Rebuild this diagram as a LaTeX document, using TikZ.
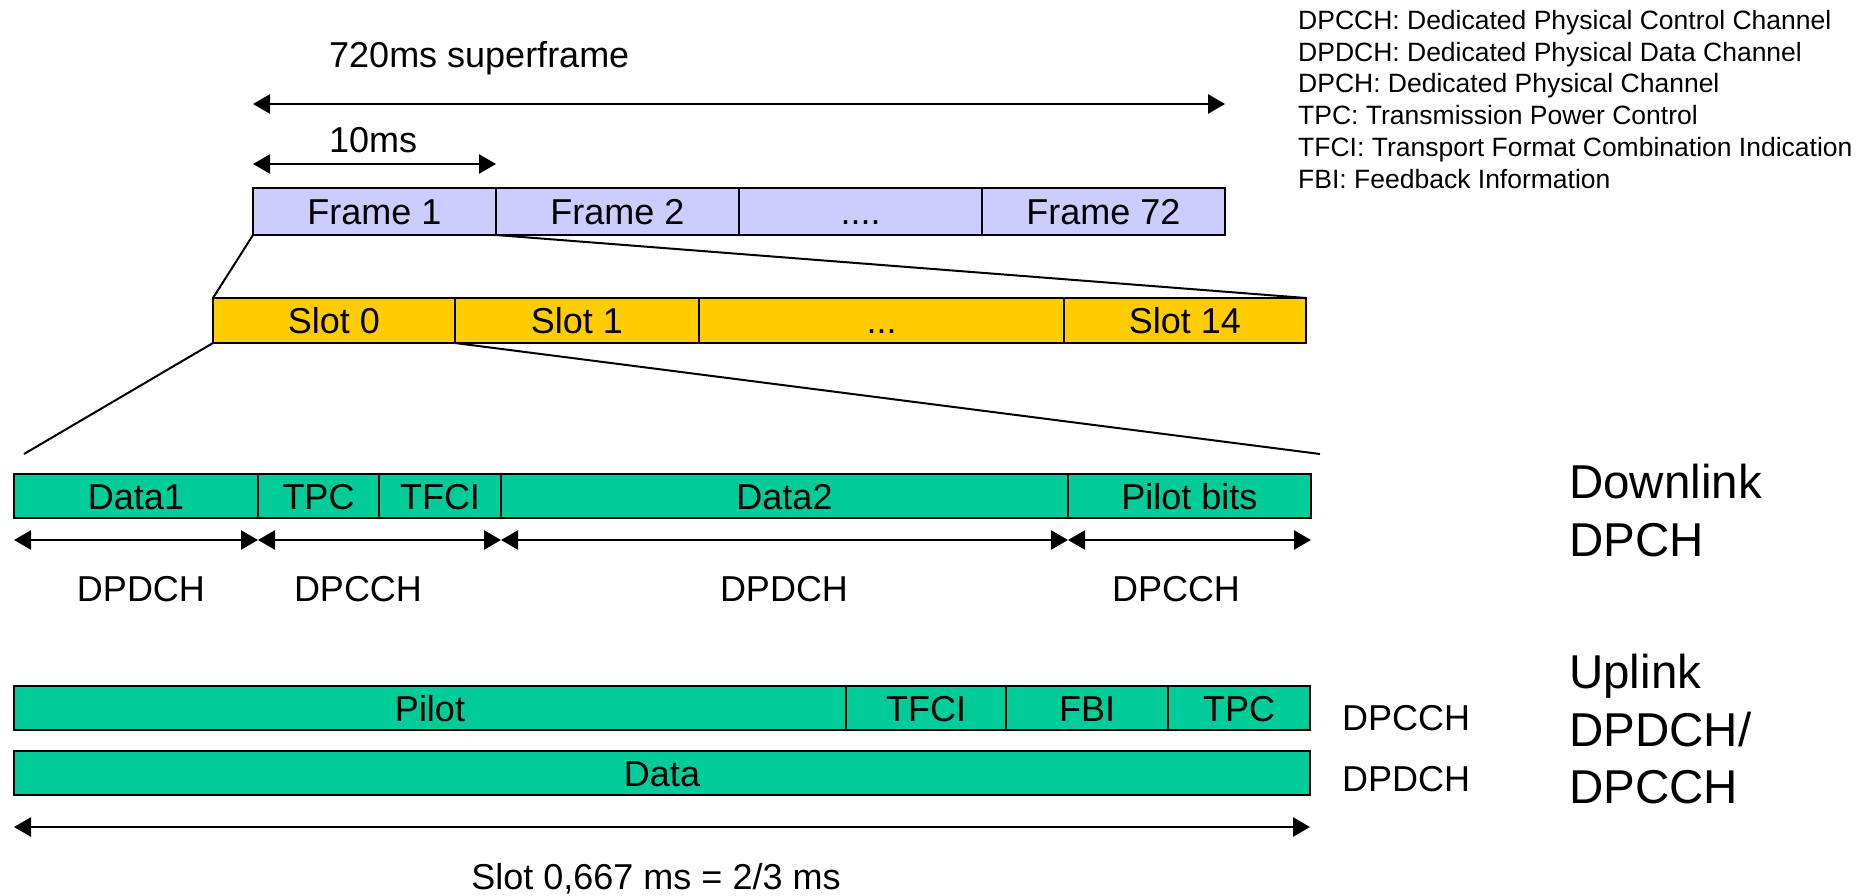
\documentclass[tikz,border=0pt]{standalone}
\usepackage{fontspec}
\setmainfont{Liberation Sans}
\usetikzlibrary{arrows.meta}
\definecolor{framefill}{HTML}{CCCCFF}
\definecolor{slotfill}{HTML}{FFCC00}
\definecolor{fieldfill}{HTML}{00CC99}
\tikzset{
  cell/.style={draw=black, line width=1.6pt, inner sep=0pt, outer sep=0pt,
    anchor=north west, font=\fontsize{36}{43}\selectfont,
    text height=26pt, text depth=0pt},
  framecell/.style={cell, fill=framefill, minimum width=243pt, minimum height=47pt},
  slotcell/.style={cell, fill=slotfill, minimum height=45pt},
  fieldcell/.style={cell, fill=fieldfill, minimum height=44pt},
  dim/.style={{Triangle[length=17pt,width=19pt]}-{Triangle[length=17pt,width=19pt]}, line width=2.6pt},
  zoomline/.style={line width=2pt},
  label/.style={inner sep=0pt, font=\fontsize{36}{43}\selectfont},
  biglabel/.style={inner sep=0pt, anchor=north west, align=left, font=\fontsize{47.5}{57.5}\selectfont},
  legend/.style={inner sep=0pt, anchor=base west, font=\fontsize{26.5}{31.8}\selectfont}
}
\begin{document}
\begin{tikzpicture}[x=1pt, y=-1pt]
\useasboundingbox (0,0) rectangle (1874,896);

% superframe of 72 frames
\node[framecell] (f1)  at (253,188) {Frame 1};
\node[framecell] (f2)  at (496,188) {Frame 2};
\node[framecell] (fdots) at (739,188) {....};
\node[framecell] (f72) at (982,188) {Frame 72};
\node[label, anchor=base west] (tsuper) at (329,68) {720ms superframe};
\node[label, anchor=base west] (tframe) at (329,153) {10ms};
\draw[dim] (f1.north west |- 0,104) -- (f72.north east |- 0,104);
\draw[dim] (f1.north west |- 0,164) -- (f1.north east |- 0,164);

% one frame = 15 slots
\node[slotcell, minimum width=242pt] (s0)  at (213,298) {Slot 0};
\node[slotcell, minimum width=244pt] (s1)  at (455,298) {Slot 1};
\node[slotcell, minimum width=365pt] (sdots) at (699,298) {...};
\node[slotcell, minimum width=242pt] (s14) at (1064,298) {Slot 14};
\draw[zoomline] (f1.south west) -- (s0.north west);
\draw[zoomline] (f1.south east) -- (s14.north east);

% expansion of one slot
\coordinate (zl) at (24,454);
\coordinate (zr) at (1320,454);
\draw[zoomline] (s0.south west) -- (zl);
\draw[zoomline] (s0.south east) -- (zr);

% downlink DPCH slot
\node[fieldcell, minimum width=244pt] (dd1)   at (14,474)   {Data1};
\node[fieldcell, minimum width=121pt] (dtpc)  at (258,474)  {TPC};
\node[fieldcell, minimum width=122pt] (dtfci) at (379,474)  {TFCI};
\node[fieldcell, minimum width=567pt] (dd2)   at (501,474)  {Data2};
\node[fieldcell, minimum width=243pt] (dpil)  at (1068,474) {Pilot bits};
\draw[dim] (dd1.south west |- 0,540) -- (dd1.south east |- 0,540);
\draw[dim] (dtpc.south west |- 0,540) -- (dtfci.south east |- 0,540);
\draw[dim] (dd2.south west |- 0,540) -- (dd2.south east |- 0,540);
\draw[dim] (dpil.south west |- 0,540) -- (dpil.south east |- 0,540);
\node[label, anchor=base] (ch1) at (141,601)  {DPDCH};
\node[label, anchor=base] (ch2) at (358,601)  {DPCCH};
\node[label, anchor=base] (ch3) at (784,601)  {DPDCH};
\node[label, anchor=base] (ch4) at (1176,601) {DPCCH};

% uplink DPCCH and DPDCH slots
\node[fieldcell, minimum width=832pt] (upil)  at (14,686)   {Pilot};
\node[fieldcell, minimum width=160pt] (utfci) at (846,686)  {TFCI};
\node[fieldcell, minimum width=162pt] (ufbi)  at (1006,686) {FBI};
\node[fieldcell, minimum width=142pt] (utpc)  at (1168,686) {TPC};
\node[fieldcell, minimum width=1296pt] (udata) at (14,751)  {Data};
\node[label, anchor=base west] (uc) at (1342,730) {DPCCH};
\node[label, anchor=base west] (ud) at (1342,791) {DPDCH};
\draw[dim] (udata.south west |- 0,827) -- (udata.south east |- 0,827);
\node[label, anchor=base] (slotlen) at (656,889) {Slot 0,667 ms = 2/3 ms};

% side titles
\node[biglabel] (down) at (1569,464) {Downlink\\DPCH};
\node[biglabel] (up)   at (1569,654) {Uplink\\DPDCH/\\DPCCH};

% abbreviations
\node[legend] (leg1) at (1298,30)  {DPCCH: Dedicated Physical Control Channel};
\node[legend] (leg2) at (1298,62)  {DPDCH: Dedicated Physical Data Channel};
\node[legend] (leg3) at (1298,93)  {DPCH: Dedicated Physical Channel};
\node[legend] (leg4) at (1298,125) {TPC: Transmission Power Control};
\node[legend] (leg5) at (1298,157) {TFCI: Transport Format Combination Indication};
\node[legend] (leg6) at (1298,189) {FBI: Feedback Information};
\end{tikzpicture}
\end{document}
